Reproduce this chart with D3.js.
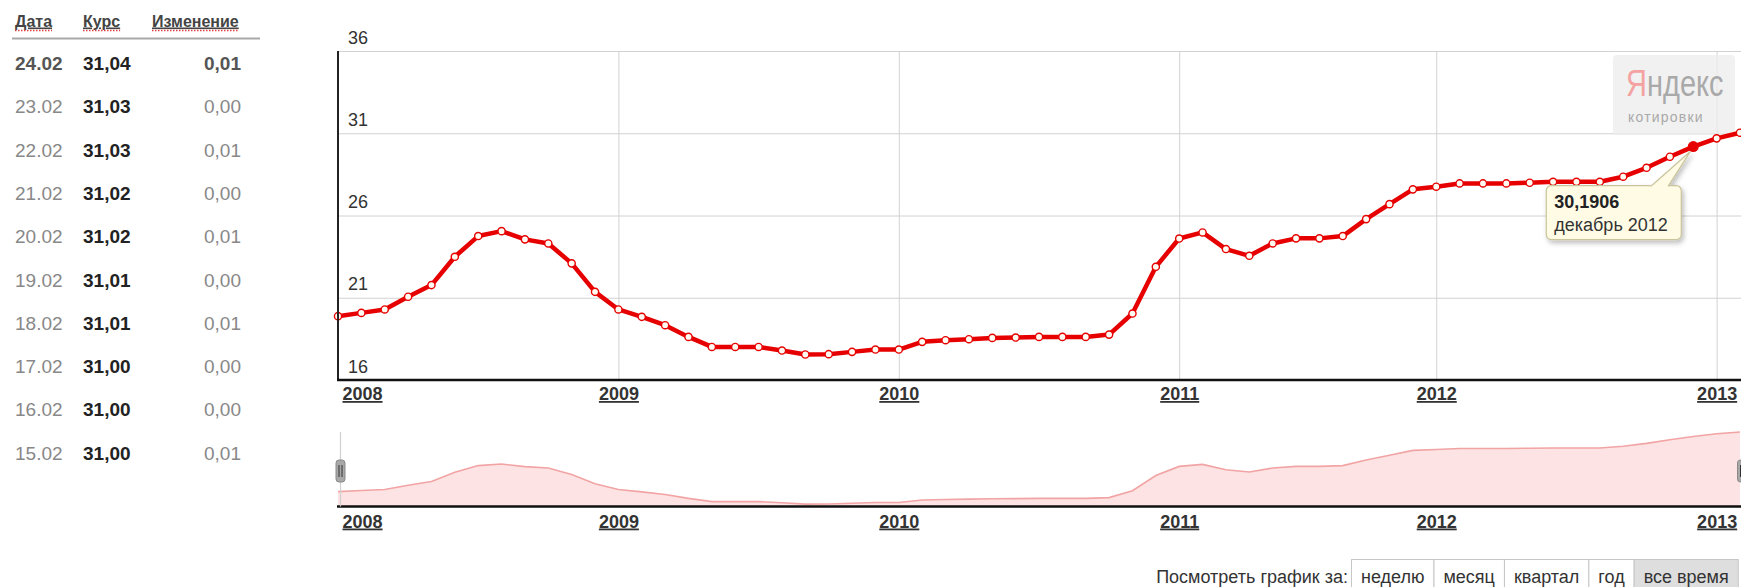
<!DOCTYPE html>
<html>
<head>
<meta charset="utf-8">
<script src="https://cdn.jsdelivr.net/npm/d3@7"></script>
<style>
  body { margin: 0; background: #fff; }
  svg { display: block; font-family: "Liberation Sans", Arial, sans-serif; }
</style>
</head>
<body>
<svg id="chart" width="1741" height="587"></svg>
<script>
  // monthly quotes (one month missing in 2011, as on the original chart)
  var months = [
    "2008-01","2008-02","2008-03","2008-04","2008-05","2008-06","2008-07","2008-08","2008-09","2008-10","2008-11","2008-12",
    "2009-01","2009-02","2009-03","2009-04","2009-05","2009-06","2009-07","2009-08","2009-09","2009-10","2009-11","2009-12",
    "2010-01","2010-02","2010-03","2010-04","2010-05","2010-06","2010-07","2010-08","2010-09","2010-10","2010-11","2010-12",
    "2011-01","2011-02","2011-03","2011-04","2011-05","2011-06","2011-07","2011-08","2011-09","2011-10","2011-11",
    "2012-01","2012-02","2012-03","2012-04","2012-05","2012-06","2012-07","2012-08","2012-09","2012-10","2012-11","2012-12",
    "2013-01","2013-02"
  ]
  var values = [
    19.88, 20.08, 20.29, 21.06, 21.77, 23.49, 24.75, 25.05, 24.55, 24.30, 23.09, 21.36,
    20.29, 19.84, 19.33, 18.62, 18.01, 18.01, 18.01, 17.79, 17.55, 17.57, 17.71, 17.85,
    17.85, 18.32, 18.42, 18.48, 18.56, 18.58, 18.62, 18.62, 18.62, 18.76, 20.04, 22.88,
    24.60, 24.97, 23.96, 23.55, 24.30, 24.61, 24.61, 24.75, 25.78, 26.69, 27.59,
    27.75, 27.95, 27.95, 27.95, 27.99, 28.05, 28.05, 28.05, 28.36, 28.90, 29.57, 30.1906,
    30.69, 31.03
  ]
  var yearTicks = ["2008", "2009", "2010", "2011", "2012", "2013"]
  var yTicks = [16, 21, 26, 31, 36]
  var highlightMonth = "2012-12"
  var monthNames = ["январь","февраль","март","апрель","май","июнь","июль","август","сентябрь","октябрь","ноябрь","декабрь"]

  // table on the left
  var tableHeaders = ["Дата", "Курс", "Изменение"]
  var tableDates = ["24.02","23.02","22.02","21.02","20.02","19.02","18.02","17.02","16.02","15.02"]
  var tableRates = ["31,04","31,03","31,03","31,02","31,02","31,01","31,01","31,00","31,00","31,00"]
  var tableChanges = ["0,01","0,00","0,01","0,00","0,01","0,00","0,01","0,00","0,00","0,01"]

  // period buttons
  var periodLabel = "Посмотреть график за:"
  var periods = ["неделю", "месяц", "квартал", "год", "все время"]
  var activePeriod = "все время"

  var width = 1741
  var height = 587
  var plot = { left: 338, right: 1740, top: 51, bottom: 380 }
  var nav = { top: 432, bottom: 506.5 }
  var red = "#e60000"

  var svg = d3.select("#chart")

  var x = d3.scalePoint().domain(months).range([plot.left, plot.right])
  var y = d3.scaleLinear().domain([16, 36]).range([plot.bottom, plot.top])
  var yNav = d3.scaleLinear().domain([17.1, d3.max(values)]).range([nav.bottom, nav.top])

  var data = months.map((m, i) => ({ month: m, value: values[i] }))
  var yearStarts = yearTicks.map(yr => yr + "-01")

  var defs = svg.append("defs")
  defs.append("filter").attr("id", "shadow").attr("x", "-20%").attr("y", "-20%").attr("width", "150%").attr("height", "160%")
    .append("feDropShadow").attr("dx", 2).attr("dy", 3).attr("stdDeviation", 2.5)
    .attr("flood-color", "#000").attr("flood-opacity", 0.25)

  // ---------- table ----------
  var table = svg.append("g")
  var headerX = [15, 83, 152]
  var heads = table.selectAll(".head").data(tableHeaders).enter().append("text")
    .attr("x", (d, i) => headerX[i]).attr("y", 26.5)
    .attr("font-size", 16).attr("font-weight", "bold").attr("fill", "#444")
    .style("text-decoration", "underline")
    .text(d => d)
  heads.each(function(d, i) {
    var w = this.getComputedTextLength()
    table.append("line")
      .attr("x1", headerX[i]).attr("x2", headerX[i] + w)
      .attr("y1", 30.5).attr("y2", 30.5)
      .attr("stroke", "#e04040").attr("stroke-width", 1.3).attr("stroke-dasharray", "1.5,1.5")
  })
  table.append("line").attr("x1", 12).attr("x2", 260).attr("y1", 38.5).attr("y2", 38.5)
    .attr("stroke", "#a8a8a8").attr("stroke-width", 2)

  var rows = table.selectAll(".row").data(tableDates).enter().append("g")
    .attr("transform", (d, i) => `translate(0,${70 + i * 43.3})`)
  rows.append("text").attr("x", 15).attr("font-size", 19)
    .attr("fill", (d, i) => i === 0 ? "#555" : "#888")
    .attr("font-weight", (d, i) => i === 0 ? "bold" : "normal")
    .text(d => d)
  rows.append("text").attr("x", 83).attr("font-size", 19)
    .attr("fill", "#222").attr("font-weight", "bold")
    .text((d, i) => tableRates[i])
  rows.append("text").attr("x", 241).attr("font-size", 19).attr("text-anchor", "end")
    .attr("fill", (d, i) => i === 0 ? "#555" : "#888")
    .attr("font-weight", (d, i) => i === 0 ? "bold" : "normal")
    .text((d, i) => tableChanges[i])

  // ---------- main chart ----------
  var gy = svg.append("g").attr("transform", `translate(${plot.left},0)`)
    .call(d3.axisLeft(y).tickValues(yTicks).tickSize(-(width - plot.left)))
  gy.attr("font-family", null).attr("font-size", 18)
  gy.select(".domain").remove()
  gy.selectAll(".tick line").attr("stroke", "#d2d2d2")
  gy.selectAll(".tick text").attr("x", 10).attr("dy", -8).attr("text-anchor", "start").attr("fill", "#333")

  var gx = svg.append("g").attr("transform", `translate(0,${plot.bottom})`)
    .call(d3.axisBottom(x).tickValues(yearStarts).tickSize(-(plot.bottom - plot.top)).tickFormat(""))
  gx.select(".domain").remove()
  gx.selectAll(".tick line").attr("stroke", "#d2d2d2")

  // logo watermark
  var logo = svg.append("g")
  logo.append("rect").attr("x", 1613).attr("y", 55).attr("width", 122).attr("height", 80)
    .attr("rx", 4).attr("fill", "#ececec").attr("opacity", 0.75)
  var brand = logo.append("text").attr("transform", "translate(1626,96) scale(1,1.3)")
    .attr("font-size", 29)
  brand.append("tspan").attr("fill", "#f4a2a2").text("Я")
  brand.append("tspan").attr("fill", "#a9a9a9").text("ндекс")
  logo.append("text").attr("x", 1628).attr("y", 122).attr("font-size", 14)
    .attr("fill", "#a9a9a9").attr("letter-spacing", 1.2)
    .text("котировки")

  var line = d3.line().x(d => x(d.month)).y(d => y(d.value))
  svg.append("path").datum(data)
    .attr("d", line).attr("fill", "none")
    .attr("stroke", red).attr("stroke-width", 4.5).attr("stroke-linejoin", "round")

  svg.append("g").selectAll("circle").data(data).enter().append("circle")
    .attr("cx", d => x(d.month)).attr("cy", d => y(d.value)).attr("r", 3.6)
    .attr("fill", "#fffaf2").attr("stroke", red).attr("stroke-width", 1.4)

  // highlighted point + tooltip
  var hi = data.find(d => d.month === highlightMonth)
  var px = x(hi.month), py = y(hi.value)
  svg.append("circle").attr("cx", px).attr("cy", py).attr("r", 5.5).attr("fill", red)

  var tip = svg.append("g")
  var bx = px - 147, by = py + 39, bw = 135, bh = 54
  var tipShape = tip.append("g").attr("filter", "url(#shadow)")
  tipShape.append("rect").attr("x", bx).attr("y", by).attr("width", bw).attr("height", bh).attr("rx", 5)
    .attr("fill", "#fffbe5").attr("stroke", "#c9c49a").attr("stroke-width", 1.2)
  tipShape.append("path")
    .attr("d", `M${px - 42},${by + 0.5} L${px - 3},${py + 5} L${px - 25},${by + 0.5}`)
    .attr("fill", "#fffbe5").attr("stroke", "#c9c49a").attr("stroke-width", 1.2)
  tip.append("rect").attr("x", px - 41).attr("y", by - 0.2).attr("width", 15).attr("height", 2).attr("fill", "#fffbe5")
  var fmt = d3.format(".4f")
  tip.append("text").attr("x", bx + 8).attr("y", by + 22).attr("font-size", 18).attr("font-weight", "bold")
    .attr("fill", "#222").text(fmt(hi.value).replace(".", ","))
  tip.append("text").attr("x", bx + 8).attr("y", by + 45).attr("font-size", 18)
    .attr("fill", "#333").text(monthNames[+hi.month.slice(5) - 1] + " " + hi.month.slice(0, 4))

  // border: left and bottom
  svg.append("line").attr("x1", plot.left).attr("x2", plot.left).attr("y1", plot.top).attr("y2", plot.bottom)
    .attr("stroke", "#222").attr("stroke-width", 2)
  svg.append("line").attr("x1", plot.left - 1).attr("x2", width).attr("y1", plot.bottom).attr("y2", plot.bottom)
    .attr("stroke", "#111").attr("stroke-width", 2.5)

  function yearLabels(yPos) {
    var g = svg.append("g").attr("transform", `translate(0,${yPos})`)
      .call(d3.axisBottom(x).tickValues(yearStarts).tickSize(0).tickFormat(d => d.slice(0, 4)))
    g.attr("font-family", null).attr("font-size", 18)
    g.select(".domain").remove()
    g.selectAll(".tick text").attr("y", 20).attr("dy", 0)
      .attr("font-weight", "bold").attr("fill", "#333")
      .style("text-decoration", "underline")
      .attr("text-anchor", (d, i) => i === 0 ? "start" : "middle")
      .attr("x", (d, i) => i === 0 ? 4 : 0)
  }
  yearLabels(plot.bottom)

  // ---------- navigator ----------
  var area = d3.area().x(d => x(d.month)).y0(nav.bottom).y1(d => yNav(d.value))
  svg.append("path").datum(data).attr("d", area).attr("fill", "#fde3e3")
  svg.append("path").datum(data).attr("d", line.y(d => yNav(d.value)))
    .attr("fill", "none").attr("stroke", "#f2a4a4").attr("stroke-width", 1.6)

  svg.append("line").attr("x1", plot.left - 1).attr("x2", width).attr("y1", nav.bottom).attr("y2", nav.bottom)
    .attr("stroke", "#111").attr("stroke-width", 2.5)
  yearLabels(nav.bottom + 1)

  // selection handles
  var handleX = [plot.left + 2.5, plot.right + 2]
  svg.append("line").attr("x1", handleX[0]).attr("x2", handleX[0]).attr("y1", nav.top).attr("y2", nav.bottom)
    .attr("stroke", "#cfcfcf").attr("stroke-width", 1.2)
  var handles = svg.selectAll(".handle").data(handleX).enter().append("g")
    .attr("transform", d => `translate(${d},471)`)
  handles.append("rect").attr("x", -4.5).attr("y", -11).attr("width", 9).attr("height", 22).attr("rx", 3)
    .attr("fill", "#a8a8a8").attr("stroke", "#8a8a8a")
  handles.selectAll("line").data([-1.5, 1.5]).enter().append("line")
    .attr("x1", d => d).attr("x2", d => d).attr("y1", -6).attr("y2", 6)
    .attr("stroke", "#333").attr("stroke-width", 1)

  // ---------- period buttons ----------
  var btnTop = 559.5, btnBase = 583
  var bar = svg.append("g")
  bar.append("text").attr("x", 1348).attr("y", btnBase).attr("text-anchor", "end")
    .attr("font-size", 18).attr("fill", "#333").text(periodLabel)

  var bx0 = 1351.5
  periods.forEach(function(p) {
    var g = bar.append("g")
    var r = g.append("rect").attr("y", btnTop).attr("height", 40)
      .attr("fill", p === activePeriod ? "#dedede" : "#fff").attr("stroke", "#c6c6c6")
    var t = g.append("text").attr("y", btnBase).attr("font-size", 18).attr("fill", "#333").text(p)
    var w = t.node().getComputedTextLength() + 19
    r.attr("x", bx0).attr("width", w)
    t.attr("x", bx0 + 9.5)
    bx0 += w
  })
</script>
</body>
</html>
